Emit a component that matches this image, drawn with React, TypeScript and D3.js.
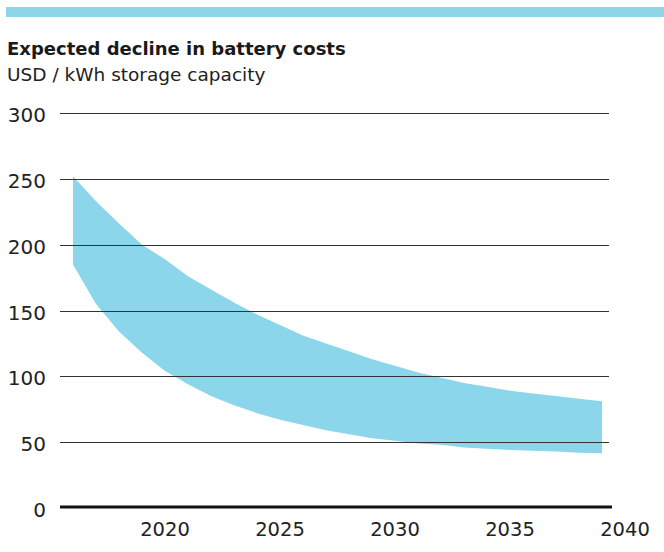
import * as d3 from 'd3'

const years = [
  2016, 2017, 2018, 2019, 2020, 2021, 2022, 2023, 2024, 2025, 2026, 2027,
  2028, 2029, 2030, 2031, 2032, 2033, 2034, 2035, 2036, 2037, 2038, 2039,
]
const upper = [
  252, 233, 216, 200, 189, 176, 166, 156, 147, 139, 131, 125,
  119, 113, 108, 103, 99, 95, 92, 89, 87, 85, 83, 81,
]
const lower = [
  185, 155, 134, 118, 104, 94, 85, 78, 72, 67, 63, 59,
  56, 53, 51, 49, 48, 46, 45, 44, 43.5, 43, 42, 41.5,
]
const yTicks = [0, 50, 100, 150, 200, 250, 300]
const xTicks = [2020, 2025, 2030, 2035, 2040]

const title = 'Expected decline in battery costs'
const subtitle = 'USD / kWh storage capacity'

const width = 664
const height = 552
const marginLeft = 60
const plotRight = 609
const yTop = 113
const yBottom = 508

export default function App() {
  const x = d3.scaleLinear([2016, 2040], [73, 625])
  const y = d3.scaleLinear([0, 300], [yBottom, yTop])
  const area = d3
    .area<number>()
    .x((d, i) => x(years[i]))
    .y0((d, i) => y(lower[i]))
    .y1((d) => y(d))
  const font = "'DejaVu Sans', Arial, sans-serif"

  return (
    <svg
      width={width}
      height={height}
      style={{ position: 'absolute', left: 0, top: 0, display: 'block' }}
      fontFamily={font}
    >
      <rect x={6} y={7} width={width - 6} height={10} fill="#8dd6ea" />
      <text x={7} y={55} fontSize={18} fontWeight="bold" fill="#1a1a1a">
        {title}
      </text>
      <text x={7} y={81} fontSize={18.5} fill="#222">
        {subtitle}
      </text>
      <path d={area(upper) || undefined} fill="#8bd6ea" />
      {yTicks
        .filter((t) => t > 0)
        .map((t) => (
          <line
            key={t}
            x1={marginLeft}
            x2={plotRight}
            y1={Math.round(y(t)) + 0.5}
            y2={Math.round(y(t)) + 0.5}
            stroke="#333"
            strokeWidth={1}
          />
        ))}
      <line x1={marginLeft} x2={612} y1={y(0) - 1} y2={y(0) - 1} stroke="#111" strokeWidth={3} />
      {yTicks.map((t) => (
        <text
          key={t}
          x={46}
          y={y(t) + 9}
          textAnchor="end"
          fontSize={20}
          fill="#222"
        >
          {t}
        </text>
      ))}
      {xTicks.map((t) => (
        <text key={t} x={x(t)} y={536} textAnchor="middle" fontSize={19.5} fill="#222">
          {t}
        </text>
      ))}
    </svg>
  )
}
